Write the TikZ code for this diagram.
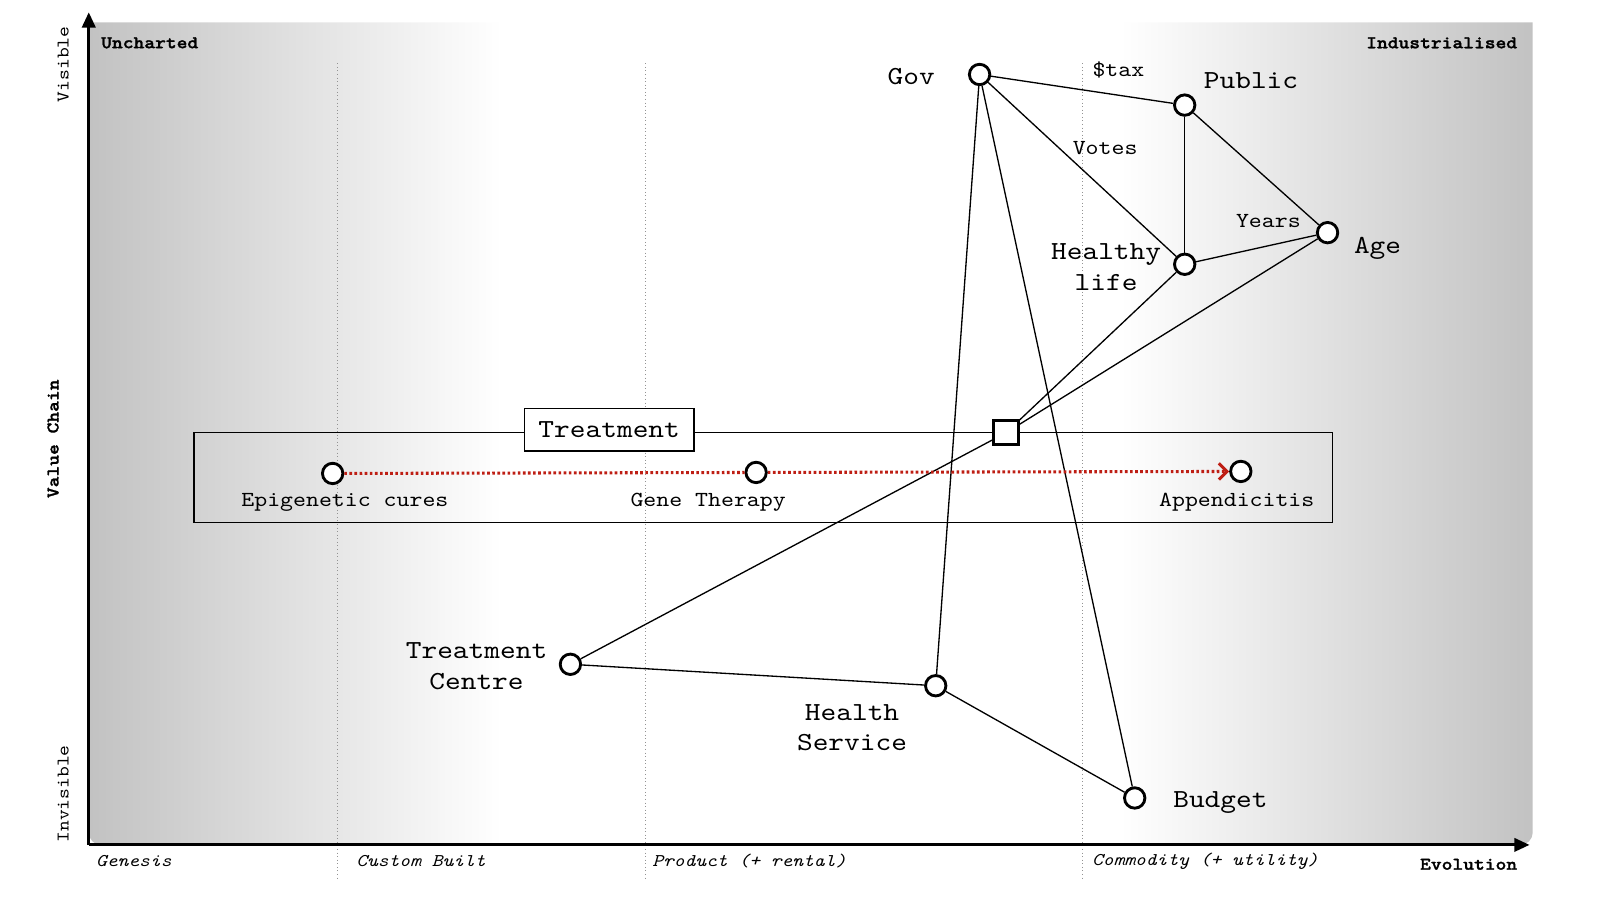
\documentclass[tikz,border=0pt]{standalone}
\usepackage{fontspec}
\setmainfont{lmmono10-regular.otf}[FakeStretch=1.15,BoldFont=lmmonolt10-bold.otf,BoldFeatures={FakeBold=1.5},ItalicFont=lmmono10-italic.otf]
\usetikzlibrary{arrows.meta}
\definecolor{edgegray}{RGB}{194,194,194}
\definecolor{evored}{RGB}{190,30,20}
\begin{document}
\begin{tikzpicture}[x=1pt,y=-1pt,
  comp/.style={circle,draw,fill=white,line width=2.8pt,minimum size=20pt,inner sep=0pt},
  sq/.style={rectangle,draw,fill=white,line width=2.8pt,minimum size=24pt,inner sep=0pt},
  big/.style={font=\fontsize{25.5}{30}\selectfont,align=center,inner sep=0pt},
  small/.style={font=\fontsize{21}{25}\selectfont,inner sep=0pt},
  axlab/.style={font=\fontsize{17.5}{20}\selectfont,inner sep=0pt},
  axbold/.style={font=\fontsize{17.5}{20}\selectfont\bfseries,inner sep=0pt},
  axital/.style={font=\fontsize{17.5}{20}\selectfont\itshape,inner sep=0pt},
  link/.style={line width=1.3pt},
  evo/.style={draw=evored,line width=3pt,dash pattern=on 2.6pt off 2.4pt},
  gridline/.style={draw=gray!85,line width=1pt,dash pattern=on 1pt off 2.5pt},
  axis/.style={line width=3pt,-{Triangle[length=15pt,width=13pt]}}
]
\useasboundingbox (0,0) rectangle (1568,882);
% background
\begin{scope}
\clip (87,22) -- (1502,22) [rounded corners=12pt] -- (1502,828) -- (87,828) [sharp corners] -- cycle;
\shade[left color=edgegray,right color=white] (87,22) rectangle (492,828);
\shade[left color=white,right color=edgegray] (1098,22) rectangle (1503,828);
\end{scope}
% evolution stage lines
\draw[gridline] (331,62) -- (331,862);
\draw[gridline] (633,62) -- (633,862);
\draw[gridline] (1061,62) -- (1061,862);
% axes
\coordinate (origin) at (87,828);
\coordinate (ytop) at (87,12);
\coordinate (xend) at (1499,828);
\draw[axis] (origin) -- (ytop);
\draw[axis] (origin) -- (xend);
% axis labels
\node[axbold,anchor=west] (unch) at (99,42) {Uncharted};
\node[axbold,anchor=east] (ind) at (1487,42) {Industrialised};
\node[axlab,rotate=90] (vis) at (62,63) {Visible};
\node[axlab,rotate=90] (invis) at (62,778) {Invisible};
\node[axbold,rotate=90] (vc) at (52,430) {Value Chain};
\node[axital,anchor=west] (gen) at (94,844) {Genesis};
\node[axital,anchor=west] (cb) at (349,844) {Custom Built};
\node[axital,anchor=west] (prod) at (639,844) {Product (+ rental)};
\node[axital,anchor=west] (comm) at (1070,844) {Commodity (+ utility)};
\node[axbold,anchor=east] (evol) at (1487,847) {Evolution};
% pipeline
\node[draw,line width=1.3pt,minimum width=1116pt,minimum height=88pt,inner sep=0pt] (pipe) at (748,468) {};
\node[draw,fill=white,line width=1.3pt,minimum width=166pt,minimum height=42pt,inner sep=0pt,font=\fontsize{25.5}{30}\selectfont] (trtbox) at (597,421) {Treatment};
% components
\node[comp] (gov) at (960,73) {};
\node[comp] (pub) at (1161,103) {};
\node[comp] (hl) at (1161,259) {};
\node[comp] (age) at (1301,228) {};
\node[sq] (trt) at (986,424) {};
\node[comp] (epi) at (326,464) {};
\node[comp] (gene) at (741,463) {};
\node[comp] (app) at (1216,462) {};
\node[comp] (tc) at (559,651) {};
\node[comp] (hs) at (917,672) {};
\node[comp] (bud) at (1112,782) {};
% component labels
\node[big] (govL) at (893,75) {Gov};
\node[big] (pubL) at (1226,79) {Public};
\node[big] (hlL) at (1084,262) {Healthy\\life};
\node[big] (ageL) at (1350,243) {Age};
\node[big] (tcL) at (467,653) {Treatment\\Centre};
\node[big] (hsL) at (835,713) {Health\\Service};
\node[big] (budL) at (1196,786) {Budget};
\node[small] (epiL) at (338,492) {Epigenetic cures};
\node[small] (geneL) at (694,492) {Gene Therapy};
\node[small] (appL) at (1212,492) {Appendicitis};
% links
\draw[link] (gov) -- (pub);
\draw[link] (gov) -- (hl);
\draw[link] (gov) -- (hs);
\draw[link] (gov) -- (bud);
\draw[link] (pub) -- (hl);
\draw[link] (pub) -- (age);
\draw[link] (hl) -- (age);
\draw[link] (hl) -- (trt);
\draw[link] (age) -- (trt);
\draw[link] (trt) -- (tc);
\draw[link] (tc) -- (hs);
\draw[link] (hs) -- (bud);
% link labels
\node[small] (taxL) at (1096,69) {\$tax};
\node[small] (votesL) at (1083,145) {Votes};
\node[small] (yearsL) at (1243,217) {Years};
% evolution
\draw[evo] (epi) -- (gene);
\draw[evo,-{Straight Barb[length=8pt,width=16pt,line width=3pt]}] (gene) -- (app);
\end{tikzpicture}
\end{document}
